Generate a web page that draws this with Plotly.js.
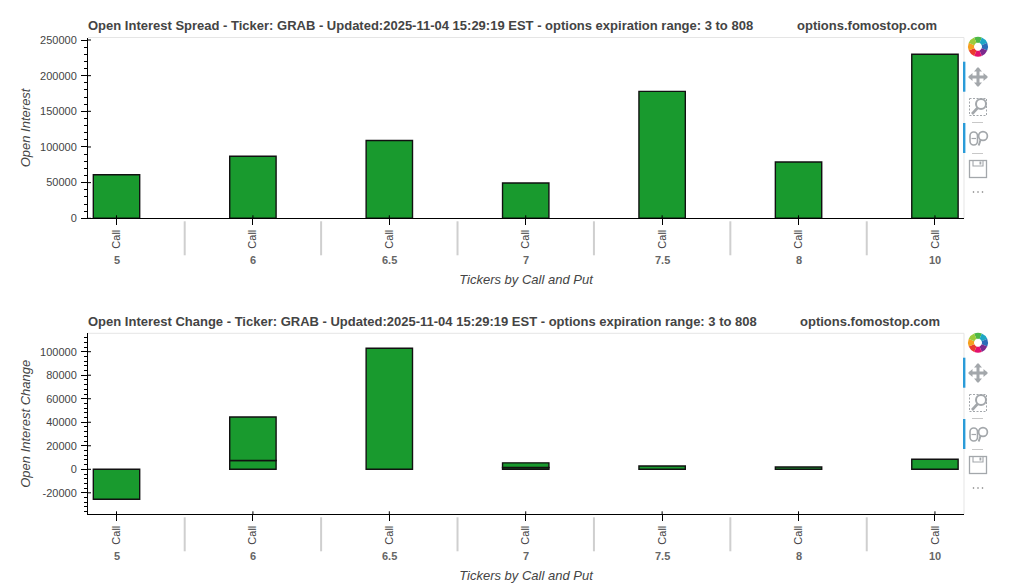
<!DOCTYPE html>
<html>
<head>
<meta charset="utf-8">
<script src="https://cdn.plot.ly/plotly-3.0.1.min.js"></script>
<style>
html,body{margin:0;padding:0;background:#fff;overflow:hidden}
#wrap{position:relative;width:1009px;height:586px}
#chart{position:absolute;left:0;top:0;width:1009px;height:586px}
#tools{position:absolute;left:0;top:0;pointer-events:none}
</style>
</head>
<body>
<div id="wrap"><div id="chart"></div><svg id="tools" width="1009" height="586"></svg></div>
<script>
const strikes = ['5','6','6.5','7','7.5','8','10'];
const sideLabels = ['Call','Call','Call','Call','Call','Call','Call'];
const spreadValues = [61000,87000,109000,49500,178000,79000,230000];
const changeLower = [-25500,7500,103000,1500,2800,2000,8500];
const changeUpper = [null,37000,null,4000,null,null,null];
const spreadTicks = [0,50000,100000,150000,200000,250000];
const changeTicks = [-20000,0,20000,40000,60000,80000,100000];
const spreadTitle = 'Open Interest Spread - Ticker: GRAB - Updated:2025-11-04 15:29:19 EST - options expiration range: 3 to 808';
const changeTitle = 'Open Interest Change - Ticker: GRAB - Updated:2025-11-04 15:29:19 EST - options expiration range: 3 to 808';
const siteLabel = 'options.fomostop.com';

const W = 1009, H = 586;
const FONT = '"Liberation Sans", Arial, sans-serif';
const py = p => 1 - p / H;
const idx = strikes.map((_, i) => i);
const GREEN = '#199a2e';
const barStyle = {color: GREEN, line: {color: '#111', width: 1.4}};

function barTrace(values, xa, ya) {
  return {type: 'bar', x: idx, y: values, width: 0.34, xaxis: xa, yaxis: ya, marker: barStyle, showlegend: false, hoverinfo: 'y'};
}
const traces = [
  barTrace(spreadValues, 'x', 'y'),
  barTrace(changeLower, 'x2', 'y2'),
  barTrace(changeUpper, 'x2', 'y2')
];

function xAxis(anchor, title, standoff) {
  return {
    anchor: anchor, domain: [88 / W, 964 / W], range: [-0.209, 6.213],
    tickmode: 'array', tickvals: idx, ticktext: sideLabels, tickangle: -90,
    ticks: 'outside', ticklen: 6, tickcolor: '#000', tickwidth: 1,
    tickfont: {family: FONT, size: 11, color: '#444'},
    showgrid: false, zeroline: false, showline: true, linecolor: '#000', linewidth: 1,
    title: {text: title, font: {family: FONT, size: 13, color: '#444', style: 'italic'}, standoff: standoff}
  };
}
function yAxis(anchor, top, bottom, range, ticks, minor, title) {
  return {
    anchor: anchor, domain: [py(bottom), py(top)], range: range,
    tickmode: 'array', tickvals: ticks, ticktext: ticks.map(String),
    ticks: 'outside', ticklen: 6, tickcolor: '#000', tickwidth: 1, ticklabelstandoff: 2,
    minor: {ticks: 'outside', ticklen: 3, tickcolor: '#000', tickwidth: 1, dtick: minor, tick0: 0, showgrid: false},
    tickfont: {family: FONT, size: 11, color: '#444'},
    showgrid: false, zeroline: false, showline: true, linecolor: '#000', linewidth: 1,
    title: {text: title, font: {family: FONT, size: 13, color: '#444', style: 'italic'}, standoff: 6}
  };
}

const panels = [
  {top: 37.5, bottom: 218.3, xref: 'x', yref: 'y', ticks: spreadTicks, title: spreadTitle, titleY: 26, siteX: 797, labelY: 260},
  {top: 333.3, bottom: 514.3, xref: 'x2', yref: 'y2', ticks: changeTicks, title: changeTitle, titleY: 321.5, siteX: 800, labelY: 556}
];
const annotations = [], shapes = [];
const black = {color: '#000', width: 1};
panels.forEach(p => {
  annotations.push({xref: 'paper', yref: 'paper', x: 88 / W, xshift: -2, y: py(p.titleY), xanchor: 'left', yanchor: 'middle', showarrow: false,
    text: '<b>' + p.title + '</b>', font: {family: FONT, size: 13, color: '#444'}});
  annotations.push({xref: 'paper', yref: 'paper', x: p.siteX / W, xshift: -2, y: py(p.titleY), xanchor: 'left', yanchor: 'middle', showarrow: false,
    text: '<b>' + siteLabel + '</b>', font: {family: FONT, size: 13, color: '#444'}});
  strikes.forEach((s, i) => {
    annotations.push({xref: p.xref, yref: 'paper', x: i, y: py(p.labelY), xanchor: 'center', yanchor: 'middle', showarrow: false,
      text: '<b>' + s + '</b>', font: {family: FONT, size: 11, color: '#666'}});
    shapes.push({type: 'line', xref: p.xref, yref: 'paper', x0: i, x1: i, y0: py(p.bottom), y1: py(p.bottom - 3), line: black});
    if (i < strikes.length - 1) {
      shapes.push({type: 'line', xref: p.xref, yref: 'paper', x0: i + 0.5, x1: i + 0.5,
        y0: py(p.bottom + 3), y1: py(p.bottom + 37), line: {color: '#cfcfcf', width: 2}});
    }
  });
  p.ticks.forEach(t => {
    shapes.push({type: 'line', xref: 'paper', yref: p.yref, x0: 88 / W, x1: 91 / W, y0: t, y1: t, line: black});
  });
  shapes.push({type: 'line', xref: 'paper', yref: 'paper', x0: 88 / W, x1: 964 / W, y0: py(p.top), y1: py(p.top), line: {color: '#e5e5e5', width: 1}, layer: 'below'});
  shapes.push({type: 'line', xref: 'paper', yref: 'paper', x0: 964 / W, x1: 964 / W, y0: py(p.top), y1: py(p.bottom), line: {color: '#e5e5e5', width: 1}, layer: 'below'});
});

const layout = {
  width: W, height: H, margin: {l: 0, r: 0, t: 0, b: 0, pad: 0},
  paper_bgcolor: '#fff', plot_bgcolor: '#fff', barmode: 'relative', showlegend: false,
  xaxis: xAxis('y', 'Tickers by Call and Put', 27),
  yaxis: yAxis('x', 37.5, 218.3, [0, 253500], spreadTicks, 10000, 'Open Interest'),
  xaxis2: xAxis('y2', 'Tickers by Call and Put', 27),
  yaxis2: yAxis('x2', 333.3, 514.3, [-38270, 115650], changeTicks, 4000, 'Open Interest Change'),
  annotations: annotations, shapes: shapes,
  font: {family: FONT, color: '#444'}
};

Plotly.newPlot('chart', traces, layout, {displayModeBar: false, responsive: false});

// Bokeh-style toolbar decoration, drawn once per panel
function toolbar(dy) {
  const g = '#a3a7ab';
  const logoColors = ['#4cb848','#1ea7c5','#2b6cb8','#7b2a8e','#e2116e','#ea3b2e','#f5a01f','#9ccb3b'];
  let s = '<g transform="translate(0,' + dy + ')">';
  const cx = 978, cy = 46.7, r = 7;
  logoColors.forEach((c, i) => {
    const a0 = (i - 2.5) * Math.PI / 4, a1 = (i - 1.5) * Math.PI / 4;
    s += '<path d="M' + (cx + r * Math.cos(a0)) + ' ' + (cy + r * Math.sin(a0)) + 'A' + r + ' ' + r + ' 0 0 1 ' + (cx + r * Math.cos(a1)) + ' ' + (cy + r * Math.sin(a1)) + '" fill="none" stroke="' + c + '" stroke-width="6"/>';
  });
  s += '<rect x="963" y="61.7" width="2.4" height="30" fill="#2a9bd8"/><rect x="963" y="123" width="2.4" height="30" fill="#2a9bd8"/>';
  // pan
  s += '<path d="M978 68.5v17M969.5 77h17" stroke="' + g + '" stroke-width="3"/>';
  s += '<path d="M978 67l4 4.5h-8zM978 87l4-4.5h-8zM968 77l4.5-4v8zM988 77l-4.5-4v8z" fill="' + g + '"/>';
  // box zoom
  s += '<rect x="969.5" y="98.5" width="17" height="17" fill="none" stroke="' + g + '" stroke-width="1" stroke-dasharray="2 1.5"/>';
  s += '<circle cx="981" cy="104" r="5" fill="#fff" stroke="' + g + '" stroke-width="2"/><path d="M977.5 108l-5.5 6" stroke="' + g + '" stroke-width="2.6"/>';
  s += '<path d="M972 122.5h11M972 153.5h11" stroke="#c8c8c8" stroke-width="1"/>';
  // wheel zoom
  s += '<rect x="970" y="132" width="7.5" height="13" rx="3.7" fill="none" stroke="' + g + '" stroke-width="1.6"/><path d="M971.5 138.5h4.5" stroke="' + g + '" stroke-width="1.2"/>';
  s += '<circle cx="983" cy="136" r="4.4" fill="#fff" stroke="' + g + '" stroke-width="1.7"/><path d="M980.5 140l-1.8 5.5" stroke="' + g + '" stroke-width="2"/>';
  // save
  s += '<rect x="969.5" y="160.5" width="17" height="17" fill="none" stroke="' + g + '" stroke-width="1.3"/><path d="M973 160.5v5.5h10v-5.5" fill="none" stroke="' + g + '" stroke-width="1.1"/><rect x="979.5" y="161.5" width="1.8" height="3" fill="' + g + '"/>';
  // more
  [973.5, 978, 982.5].forEach(x => { s += '<circle cx="' + x + '" cy="192" r="0.8" fill="#777"/>'; });
  return s + '</g>';
}
document.getElementById('tools').innerHTML = toolbar(0) + toolbar(296);
</script>
</body>
</html>
